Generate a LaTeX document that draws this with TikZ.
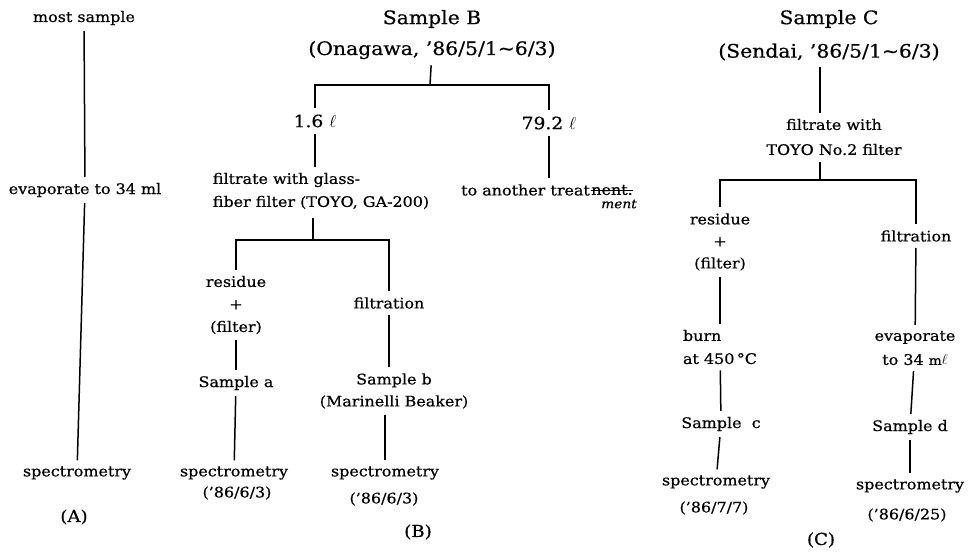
\documentclass[tikz,border=0pt]{standalone}
\usepackage{fontspec}
\setmainfont[FakeStretch=1.1,FakeBold=0.6]{DejaVu Serif}
\newcommand{\litre}{{\fontsize{19}{19}\selectfont$\ell$}}
\begin{document}
\begin{tikzpicture}[x=1pt,y=-1pt,
  lbl/.style={inner sep=1pt, align=center, font=\fontsize{14.5}{22}\selectfont},
  ttl/.style={inner sep=1pt, align=center, font=\fontsize{18.5}{30}\selectfont},
  vol/.style={inner sep=1pt, font=\fontsize{17}{20}\selectfont},
  tag/.style={inner sep=1pt, font=\fontsize{16.5}{20}\selectfont},
  conn/.style={line width=1.5pt, shorten <=5pt, shorten >=5pt},
  bar/.style={line width=1.5pt}]
\useasboundingbox (0,0) rectangle (968,551);

% ---------------- column (A)
\node[lbl] (a1) at (84,18)  {most sample};
\node[lbl] (a2) at (85,190) {evaporate to 34 ml};
\node[lbl] (a3) at (77,473) {spectrometry};
\node[tag] (aL) at (74,517) {(A)};
\draw[conn] (a1) -- (a2);
\draw[conn] (a2) -- (a3);

% ---------------- column (B)
\node[ttl] (b1) at (432,19) {Sample B};
\node[ttl] (b2) at (432,50) {(Onagawa, '86/5/1\textasciitilde6/3)};
\coordinate (bj) at (430,85);
\node[vol] (b3) at (315,121) {1.6 \litre};
\node[vol] (b4) at (549,123) {79.2 \litre};
\node[lbl, align=left, font=\fontsize{14.5}{23}\selectfont] (b5) at (321,191)
  {filtrate with glass-\\fiber filter (TOYO, GA-200)};
\node[lbl, anchor=west] (b6) at (460,190) {to another treat};
\node[lbl, anchor=west, inner xsep=0pt] (b6x) at (b6.east) {nent.};
\node[lbl, font=\fontsize{12.5}{13}\itshape] (b6m) at (619,204) {ment};
\draw[line width=1.1pt] ([yshift=4.5pt]b6x.base west) -- ([yshift=4.5pt]b6x.base east);
\coordinate (bj2) at (313,240);
\node[lbl, font=\fontsize{14.5}{22.5}\selectfont] (b7) at (236,305)
  {residue\\+\\(filter)};
\node[lbl] (b8)  at (236,383) {Sample a};
\node[lbl] (b9)  at (234,473) {spectrometry};
\node[lbl] (b9d) at (237,493) {('86/6/3)};
\node[lbl] (b10) at (389,303) {filtration};
\node[lbl] (b11) at (394,391) {Sample b\\(Marinelli Beaker)};
\node[lbl] (b12) at (385,473) {spectrometry};
\node[lbl] (b12d) at (384,499) {('86/6/3)};
\node[tag] (bL) at (418,532) {(B)};

\draw[bar, shorten <=5pt] (b2) -- (bj);
\draw[bar, shorten <=5pt, shorten >=5pt] (b3) |- (bj) -| (b4);
\draw[conn] (b3) -- (b3 |- b5.north);
\draw[conn] (b4) -- (b4 |- b6.north);
\draw[bar, shorten <=8pt] (bj2 |- b5.south) -- (bj2);
\draw[bar, shorten <=5pt, shorten >=5pt] (b7) |- (bj2) -| (b10);
\draw[conn] (b7) -- (b8);
\draw[conn] (b8) -- (b9);
\draw[conn] (b10) -- (b10 |- b11.north);
\draw[conn] (b12 |- b11.south) -- (b12);

% ---------------- column (C)
\node[ttl] (c1) at (829,19) {Sample C};
\node[ttl] (c2) at (829,52) {(Sendai, '86/5/1\textasciitilde6/3)};
\coordinate (cs) at (820,0);
\node[lbl, font=\fontsize{14.5}{25}\selectfont] (c3) at (834,137)
  {filtrate with\\TOYO No.2 filter};
\coordinate (cj) at (820,180);
\node[lbl, font=\fontsize{14.5}{22}\selectfont] (c4) at (720,242)
  {residue\\+\\(filter)};
\node[lbl] (c5) at (916,236) {filtration};
\node[lbl, align=left, font=\fontsize{14.5}{23}\selectfont] (c6) at (720,347)
  {burn\\at 450\,°C};
\node[lbl] (c7) at (721,424) {Sample\ \ c};
\node[lbl] (c8) at (716,482) {spectrometry};
\node[lbl] (c8d) at (714,508) {('86/7/7)};
\node[lbl, font=\fontsize{14.5}{24}\selectfont] (c10) at (915,348)
  {evaporate\\to 34 {\fontsize{12.5}{12}\selectfont m{\fontsize{14}{14}\selectfont$\ell$}}};
\node[lbl] (c11) at (910,427) {Sample d};
\node[lbl] (c12) at (910,486) {spectrometry};
\node[lbl] (c12d) at (907,515) {('86/6/25)};
\node[tag] (cL) at (821,540) {(C)};

\draw[conn] (c2.south -| cs) -- (c3.north -| cs);
\draw[bar, shorten <=6pt] (c3.south -| cj) -- (cj);
\draw[bar, shorten <=5pt, shorten >=5pt] (c4) |- (cj) -| (c5);
\draw[conn] (c4) -- (c6);
\draw[conn] (c6) -- (c7);
\draw[conn] (c7) -- (c8);
\draw[conn] (c5) -- (c10);
\draw[conn] (c10) -- (c11);
\draw[conn] (c11) -- (c12);
\end{tikzpicture}
\end{document}
